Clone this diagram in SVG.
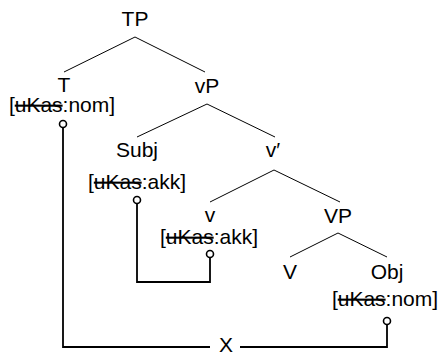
<svg xmlns="http://www.w3.org/2000/svg" width="443" height="355" viewBox="0 0 443 355">
<style>
text{font-family:"Liberation Sans",Arial,sans-serif;font-size:21px;fill:#000;text-anchor:middle}
.s{text-decoration:line-through}
.tree line{stroke:#000;stroke-width:1}
.conn path{fill:none;stroke:#000;stroke-width:1.8}
.conn circle{fill:#fff;stroke:#000;stroke-width:1.6}
</style>
<rect width="443" height="355" fill="#fff"/>
<g class="tree" id="edges">
<line x1="135" y1="37" x2="64" y2="72"/>
<line x1="135" y1="37" x2="205" y2="72"/>
<line x1="207" y1="104" x2="137" y2="137"/>
<line x1="207" y1="104" x2="275" y2="137"/>
<line x1="274" y1="170" x2="210" y2="202"/>
<line x1="274" y1="170" x2="340" y2="202"/>
<line x1="338" y1="233" x2="290" y2="257"/>
<line x1="338" y1="233" x2="387" y2="257"/>
</g>
<g id="TP"><text x="135" y="26">TP</text></g>
<g id="T"><text x="64" y="92">T</text><text x="62" y="112">[<tspan class="s">uKas</tspan>:nom]</text></g>
<g id="vP"><text x="207" y="93">vP</text></g>
<g id="Subj"><text x="137" y="157">Subj</text><text x="137" y="189">[<tspan class="s">uKas</tspan>:akk]</text></g>
<g id="vbar"><text x="273" y="157">v′</text></g>
<g id="v"><text x="210" y="222">v</text><text x="209" y="244">[<tspan class="s">uKas</tspan>:akk]</text></g>
<g id="VP"><text x="338" y="223">VP</text></g>
<g id="V"><text x="290" y="279">V</text></g>
<g id="Obj"><text x="387" y="279">Obj</text><text x="385" y="306">[<tspan class="s">uKas</tspan>:nom]</text></g>
<g class="conn" id="connectors">
<path d="M63 128V347H210M240 347H387V325"/>
<path d="M137 204V282H210V258"/>
<circle cx="63" cy="124" r="3.5"/>
<circle cx="137" cy="200" r="3.5"/>
<circle cx="210" cy="254" r="3.5"/>
<circle cx="387" cy="321" r="3.5"/>
</g>
<g id="X"><text x="226" y="352">X</text></g>
</svg>
